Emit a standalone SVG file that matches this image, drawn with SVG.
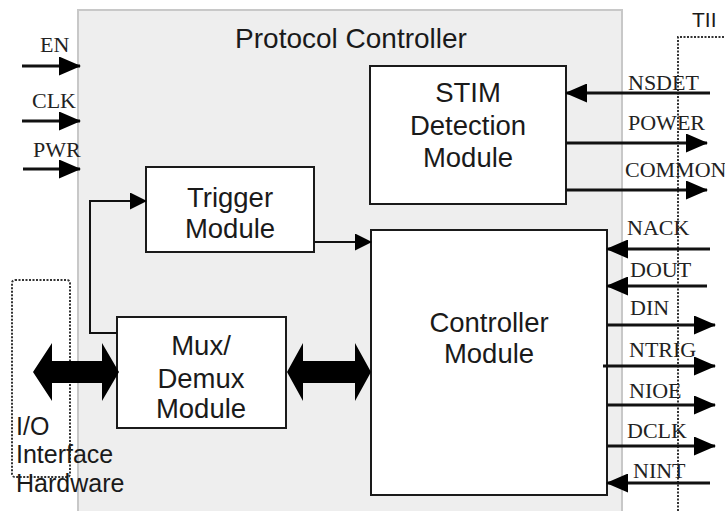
<svg xmlns="http://www.w3.org/2000/svg" width="725" height="511" viewBox="0 0 725 511">
<style>
.box{fill:#fff;stroke:#1a1a1a;stroke-width:2}
.mt{font-family:"Liberation Sans",Arial,sans-serif;font-size:27.5px;fill:#1a1a1a;text-anchor:middle}
.sig{font-family:"Liberation Serif","Times New Roman",serif;font-size:22px;fill:#222}
.ln{stroke:#111;stroke-width:3;fill:none}
.thin{stroke:#111;stroke-width:2;fill:none}
.dot{stroke:#333;stroke-width:2;stroke-dasharray:2 1.5;fill:none}
</style>
<defs>
<marker id="ah" viewBox="0 0 22 19" refX="21" refY="9.5" markerWidth="22" markerHeight="19" markerUnits="userSpaceOnUse" orient="auto"><path d="M0,0 L22,9.5 L0,19 Z" fill="#000"/></marker>
<marker id="ahs" viewBox="0 0 17 17" refX="16" refY="8.5" markerWidth="17" markerHeight="17" markerUnits="userSpaceOnUse" orient="auto"><path d="M0,0 L17,8.5 L0,17 Z" fill="#000"/></marker>
</defs>
<rect width="725" height="511" fill="#fff"/>
<g id="protocol-controller">
<rect x="78" y="10" width="544" height="505" fill="#eeeeee" stroke="#c8c8c8" stroke-width="2"/>
<text x="351" y="48" font-family="Liberation Sans,Arial,sans-serif" font-size="28" fill="#1a1a1a" text-anchor="middle">Protocol Controller</text>
</g>
<g id="io-hardware">
<rect x="12" y="280" width="58" height="197" rx="3" class="dot"/>
<text font-family="Liberation Sans,Arial,sans-serif" font-size="25" fill="#1a1a1a"><tspan x="16" y="435">I/O</tspan><tspan x="16" y="463">Interface</tspan><tspan x="16" y="492">Hardware</tspan></text>
</g>
<g id="tii">
<path d="M678,511 L678,37 L725,37" class="dot"/>
<text x="692" y="27" font-family="Liberation Sans,Arial,sans-serif" font-size="21" fill="#1a1a1a">TII</text>
</g>
<g id="stim">
<rect x="370" y="66" width="196" height="138" class="box"/>
<text class="mt"><tspan x="468" y="102">STIM</tspan><tspan x="468" y="135">Detection</tspan><tspan x="468" y="167">Module</tspan></text>
</g>
<g id="trigger">
<rect x="146" y="167" width="168" height="85" class="box"/>
<text class="mt"><tspan x="230" y="207">Trigger</tspan><tspan x="230" y="238">Module</tspan></text>
</g>
<g id="mux">
<rect x="117" y="317" width="169" height="111" class="box"/>
<text class="mt"><tspan x="201" y="355">Mux/</tspan><tspan x="201" y="388">Demux</tspan><tspan x="201" y="418">Module</tspan></text>
</g>
<g id="controller">
<rect x="371" y="230" width="236" height="265" class="box"/>
<text class="mt"><tspan x="489" y="332">Controller</tspan><tspan x="489" y="363">Module</tspan></text>
</g>
<g id="connectors">
<path d="M117,333 L90,333 L90,201 L146,201" class="thin" marker-end="url(#ahs)"/>
<path d="M314,242 L371,242" class="thin" marker-end="url(#ahs)"/>
<path d="M33,372 L52,343 L52,361 L102,361 L102,343 L119,372 L102,401 L102,383 L52,383 L52,401 Z" fill="#000"/>
<path d="M287,372 L303,343 L303,361 L355,361 L355,343 L371,372 L355,401 L355,383 L303,383 L303,401 Z" fill="#000"/>
<path d="M22,66 L80,66" class="ln" marker-end="url(#ah)"/>
<path d="M22,121 L80,121" class="ln" marker-end="url(#ah)"/>
<path d="M23,169 L80,169" class="ln" marker-end="url(#ah)"/>
<path d="M710,93 L566,93" class="ln" marker-end="url(#ah)"/>
<path d="M566,143 L707,143" class="ln" marker-end="url(#ah)"/>
<path d="M566,190 L707,190" class="ln" marker-end="url(#ah)"/>
<path d="M710,249 L607,249" class="ln" marker-end="url(#ah)"/>
<path d="M707,286 L607,286" class="ln" marker-end="url(#ah)"/>
<path d="M607,325 L715,325" class="ln" marker-end="url(#ah)"/>
<path d="M603,366 L715,366" class="ln" marker-end="url(#ah)"/>
<path d="M607,405 L715,405" class="ln" marker-end="url(#ah)"/>
<path d="M607,446 L715,446" class="ln" marker-end="url(#ah)"/>
<path d="M710,483 L607,483" class="ln" marker-end="url(#ah)"/>
</g>
<g id="labels">
<text class="sig" x="40" y="52">EN</text>
<text class="sig" x="32" y="108">CLK</text>
<text class="sig" x="33" y="157">PWR</text>
<text class="sig" x="628" y="90">NSDET</text>
<text class="sig" x="628" y="130">POWER</text>
<text class="sig" x="625" y="177">COMMON</text>
<text class="sig" x="627" y="235">NACK</text>
<text class="sig" x="630" y="277">DOUT</text>
<text class="sig" x="630" y="315">DIN</text>
<text class="sig" x="629" y="357">NTRIG</text>
<text class="sig" x="629" y="398">NIOE</text>
<text class="sig" x="627" y="438">DCLK</text>
<text class="sig" x="633" y="478">NINT</text>
</g>
</svg>
